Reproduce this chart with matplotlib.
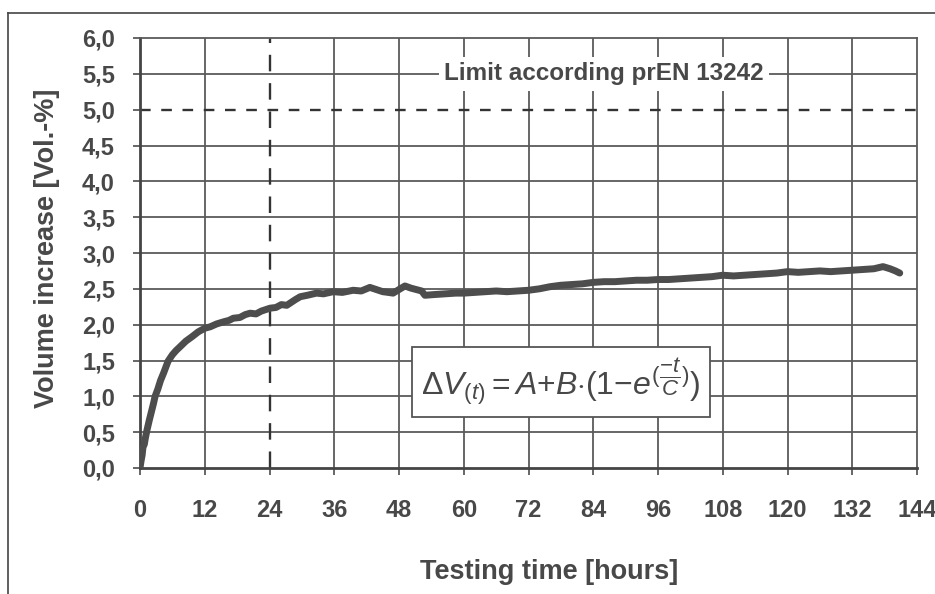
import matplotlib
matplotlib.use("Agg")
import matplotlib.pyplot as plt
from matplotlib.lines import Line2D

plt.rcParams['font.family'] = ['Liberation Sans', 'DejaVu Sans']
plt.rcParams['mathtext.fontset'] = 'custom'
plt.rcParams['mathtext.rm'] = 'Liberation Sans'
plt.rcParams['mathtext.it'] = 'Liberation Sans:italic'

hours = [0.0, 0.2, 0.4, 0.55, 0.8, 1.0, 1.3, 1.7, 2.1, 2.5, 2.8, 3.3, 3.8, 4.4, 5.2,
         6.0, 6.7, 7.4, 8.5, 9.6, 10.8, 12.0, 13.0, 14.2, 15.5, 16.5, 17.3, 18.5,
         19.5, 20.4, 21.5, 22.5, 23.3, 24.1, 25.2, 26.2, 27.2, 28.0, 28.8, 29.7,
         31.0, 32.7, 34.0, 35.8, 37.5, 39.5, 41.0, 42.6, 43.8, 45.0, 46.0, 46.9,
         48.0, 49.1, 50.2, 51.2, 52.2, 52.8, 54.5, 56.5, 58.5, 60.0, 62.0, 64.0,
         66.0, 68.0, 70.0, 72.0, 74.0, 76.0, 78.0, 80.0, 82.0, 84.0, 86.0, 88.0,
         90.0, 92.0, 94.0, 96.0, 98.0, 100.0, 102.0, 104.0, 106.0, 108.0, 110.0,
         112.0, 114.0, 116.0, 118.0, 120.0, 122.0, 124.0, 126.0, 128.0, 130.0,
         132.0, 134.0, 136.0, 137.7, 139.0, 140.0, 140.8]
volume = [0.00, 0.10, 0.18, 0.29, 0.33, 0.42, 0.53, 0.66, 0.78, 0.90, 1.00, 1.10,
          1.22, 1.33, 1.49, 1.58, 1.64, 1.69, 1.77, 1.83, 1.90, 1.95, 1.97, 2.01,
          2.04, 2.06, 2.09, 2.10, 2.14, 2.16, 2.15, 2.19, 2.21, 2.23, 2.24, 2.28,
          2.27, 2.31, 2.35, 2.39, 2.41, 2.44, 2.43, 2.46, 2.45, 2.48, 2.47, 2.52,
          2.49, 2.46, 2.45, 2.44, 2.49, 2.54, 2.51, 2.49, 2.47, 2.41, 2.42, 2.43,
          2.44, 2.44, 2.45, 2.46, 2.47, 2.46, 2.47, 2.48, 2.50, 2.53, 2.55, 2.56,
          2.57, 2.59, 2.60, 2.60, 2.61, 2.62, 2.62, 2.63, 2.63, 2.64, 2.65, 2.66,
          2.67, 2.69, 2.68, 2.69, 2.70, 2.71, 2.72, 2.74, 2.73, 2.74, 2.75, 2.74,
          2.75, 2.76, 2.77, 2.78, 2.81, 2.78, 2.75, 2.72]

x_ticks = [0, 12, 24, 36, 48, 60, 72, 84, 96, 108, 120, 132, 144]
y_ticks = [0.0, 0.5, 1.0, 1.5, 2.0, 2.5, 3.0, 3.5, 4.0, 4.5, 5.0, 5.5, 6.0]
y_labels = ['0,0', '0,5', '1,0', '1,5', '2,0', '2,5', '3,0', '3,5', '4,0',
            '4,5', '5,0', '5,5', '6,0']
limit = 5.0
limit_hours = 24

txt = '#484848'
grid = '#5a5a5a'

fig = plt.figure(figsize=(9.35, 5.94), dpi=100)
ax = fig.add_axes([140 / 935, 1 - 468 / 594, 777 / 935, 430 / 594])

ax.set_xlim(0, 144)
ax.set_ylim(0, 6)
ax.set_xticks(x_ticks)
ax.set_yticks(y_ticks)
ax.set_yticklabels(y_labels)

# grid, with the 24 h and 5.0 lines left out (drawn dashed below)
for x in x_ticks[1:-1]:
    if x != limit_hours:
        ax.axvline(x, color=grid, lw=1.3, zorder=1)
for y in y_ticks[1:-1]:
    if y != limit:
        ax.axhline(y, color=grid, lw=1.3, zorder=1)

ax.axhline(limit, color='#333333', lw=1.7, dashes=(4.5, 4.5), zorder=2)
ax.axvline(limit_hours, color='#333333', lw=1.7, dashes=(7, 5), zorder=2)

for s in ax.spines.values():
    s.set_color(grid)
    s.set_linewidth(1.3)
ax.spines['left'].set_linewidth(2)
ax.spines['bottom'].set_linewidth(2)
ax.spines['left'].set_color('#444444')
ax.spines['bottom'].set_color('#444444')

ax.tick_params(axis='x', direction='out', length=5, width=1.3, color=grid,
               pad=17, labelsize=17, labelcolor=txt)
ax.tick_params(axis='y', direction='out', length=5, width=1.3, color=grid,
               pad=13, labelsize=17, labelcolor=txt)
for lab in ax.get_xticklabels() + ax.get_yticklabels():
    lab.set_fontweight('bold')

ax.plot(hours, volume, color='#4d4d4d', lw=5, solid_joinstyle='round',
        solid_capstyle='round', zorder=4)

ax.text(86, 5.5, 'Limit according prEN 13242', ha='center', va='center',
        fontsize=17.5, fontweight='bold', color=txt, zorder=5,
        bbox=dict(facecolor='white', edgecolor='none', pad=4))

ax.text(78, 1.2, r'$\Delta V_{(t)} {=} A {+} B{\cdot}(1{-}e^{(\dfrac{-t}{C})})$',
        ha='center', va='center', fontsize=23, color=txt, zorder=5,
        bbox=dict(facecolor='white', edgecolor='#555555', lw=1.3,
                  boxstyle='square,pad=0.3'))

fig.text(549 / 935, 1 - 572 / 594, 'Testing time [hours]', ha='center',
         va='center', fontsize=19.5, fontweight='bold', color=txt)
fig.text(47 / 935, 1 - 248 / 594, 'Volume increase [Vol.-%]', ha='center',
         va='center', rotation=90, fontsize=19.5, fontweight='bold', color=txt)

# outer frame (only top and left show in the crop)
fig.add_artist(Line2D([8 / 935, 8 / 935], [0, 1 - 13 / 594],
                      transform=fig.transFigure, color='#444444', lw=1.2))
fig.add_artist(Line2D([8 / 935, 1], [1 - 13 / 594, 1 - 13 / 594],
                      transform=fig.transFigure, color='#444444', lw=1.2))

fig.savefig('out.png', dpi=100)
